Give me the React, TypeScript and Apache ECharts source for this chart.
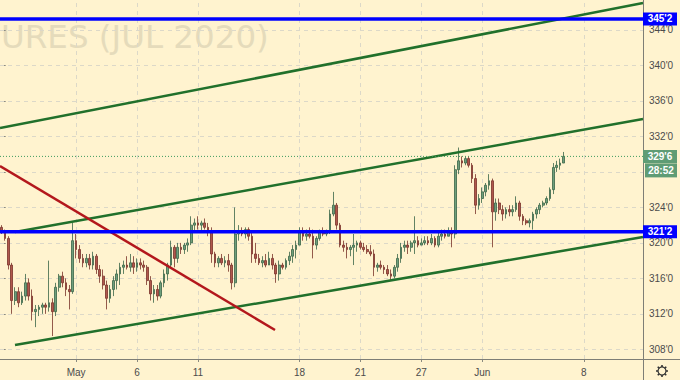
import React, { useEffect, useRef } from "react";
import * as echarts from "echarts";

// [open, close, low, high] per bar (6 bars per trading day)
const bars: number[][] = [
  [321.75,321.25,321,322],[321.25,320.5,320.25,321.5],[320.5,317.5,317,320.75],[317.5,313.5,312,317.75],
  [313.5,314.5,313,315],[314.5,313.25,312.75,315],[313.25,314,313,314.5],[314,315.5,313.5,316.5],
  [315.5,314,313.5,316],[314,312.25,311.25,314.75],[312.25,312.5,310.5,313],[312.5,312.75,311.75,313],
  [312.75,313,312,313.25],[313,312.75,312,313.25],[312.75,313.25,312.25,318],[313.25,312.25,309.5,313.75],
  [312.25,315,311.75,315.5],[315,316.25,314.5,316.5],[316.25,315.5,315,316.75],[315.5,314.75,314,316],
  [314.75,314.5,312.5,315.25],[314.5,320.25,314.25,322.25],[320.25,319.25,318.25,321],[319.25,318.25,317.75,319.75],
  [318.25,317.75,317.25,318.75],[317.75,318.25,317.25,318.75],[318.25,317.5,317,318.75],[317.5,318.5,317,319],
  [318.5,317,316.5,318.75],[317,316.25,315.5,317.5],[316.25,315.25,314.75,317],[315.25,313.75,312.5,315.75],
  [313.75,314.75,313.25,315.25],[314.75,315.75,314,316.25],[315.75,316.5,314.75,317],[316.5,317.25,315.25,317.75],
  [317.25,317.5,316.5,318],[317.5,317.25,317,318.5],[317.25,317.75,316.75,318.75],[317.75,317.25,316.5,318.5],
  [317.25,317.75,316.75,318.25],[317.75,317.5,317,318.25],[317.5,317.25,316.75,318],[317.25,315.75,315.25,317.5],
  [315.75,314.25,313.5,316.25],[314.25,314.75,313.25,315.25],[314.75,314,313.5,315.25],[314,315.5,313.75,315.75],
  [315.5,316.5,315,317],[316.5,317.5,315.75,317.75],[317.5,319.5,317.25,320.25],[319.5,318.25,317.25,319.75],
  [318.25,319.5,317.75,320],[319.5,319.25,318.75,320],[319.25,319.75,318.75,320],[319.75,320,319,320.5],
  [320,322,319.75,323],[322,322.25,321.25,322.75],[322.25,322,321.5,323],[322,322.25,321.25,322.5],
  [322.25,321.75,321.5,322.75],[321.75,321.25,320.75,322.25],[321.25,318.75,317.75,321.75],[318.75,317.75,317.25,319],
  [317.75,318.25,317.25,318.5],[318.25,317.75,317.5,318.75],[317.75,318,317.25,318.5],[318,317.5,316.75,318.75],
  [317.5,315.5,314.75,317.75],[315.5,321,315,324],[321,321.25,320.25,322],[321.25,321,320.75,321.75],
  [321,321.5,320.5,321.75],[321.5,320.75,320.25,321.75],[320.75,318.75,317.75,321.25],[318.75,318.25,317.75,320],
  [318.25,317.75,317.5,318.75],[317.75,318,317.25,318.5],[318,317.5,317.25,318.75],[317.5,318.25,317.5,319],
  [318.25,317.5,317,318.75],[317.5,316.5,315.5,317.75],[316.5,317.5,315.75,318],[317.5,317.25,317,317.75],
  [317.25,318,317,318.25],[318,318.5,317.5,319],[318.5,319.25,317.75,319.75],[319.25,319.75,318.25,320.25],
  [319.75,321.25,319.75,321.75],[321.25,320.75,320.25,321.75],[320.75,321,320.25,321.5],[321,320.75,320.5,321.75],
  [320.75,319.75,318.25,321.5],[319.75,320.5,319.25,320.75],[320.5,321.25,320.25,321.5],[321.25,321,320.75,321.75],
  [321,321.25,320.75,321.5],[321.25,323.25,321,323.75],[323.25,324.25,323,325.75],[324.25,322,321.5,324.5],
  [322,319.75,319.5,322.25],[319.75,319.5,319,320.25],[319.5,319.25,318.25,320],[319.25,319.5,318.5,319.75],
  [319.5,319.75,317.5,321],[319.75,320,319,320.25],[320,319.5,319.25,320.25],[319.5,319.25,319,320],
  [319.25,319,318.75,319.75],[319,318.75,318.5,319.75],[318.75,317.25,316.25,319.25],[317.25,317.5,316.75,317.75],
  [317.5,317.25,317,318],[317.25,317,316.5,317.5],[317,316.5,316.25,317.5],[316.5,316.25,315.75,317],
  [316.25,317.25,316,317.5],[317.25,318.25,316.75,318.75],[318.25,319.5,317.75,320],[319.5,319.75,319,320.25],
  [319.75,319.5,318.75,320.25],[319.5,320,319,320.25],[320,320.25,318.75,323],[320.25,319.75,319.5,320.75],
  [319.75,320,319.75,320.5],[320,320.25,319.75,320.75],[320.25,320,319.75,320.75],[320,320.5,319.75,321],
  [320.5,319.75,319.5,320.75],[319.75,320.75,319.5,321.25],[320.75,321,320.25,321.5],[321,320.75,320.5,321.5],
  [320.75,321.25,320.75,321.75],[321.25,321,319.5,321.75],[321,328.25,320.5,328.75],[328.25,329.25,327.75,330.75],
  [329.25,329,328.5,329.75],[329,329.5,328.75,329.75],[329.5,328.75,328.5,329.75],[328.75,327.25,326.75,329],
  [327.25,324.25,323.25,327.75],[324.25,325,323.75,325.5],[325,325.75,324.5,326.25],[325.75,326.5,325.25,326.75],
  [326.5,327,326,327.75],[327,323.5,319.5,327.25],[323.5,324.5,322.5,325],[324.5,323.75,323.25,325],
  [323.75,323.25,322.5,324.25],[323.25,323.75,322.75,324],[323.75,323.5,323,324.25],[323.5,323.75,323,324.25],
  [323.75,324.5,323.5,325.25],[324.5,323,322.5,324.75],[323,322.5,322,323.25],[322.5,322.25,322,322.75],
  [322.25,322.5,321.75,322.75],[322.5,323.25,321.5,323.5],[323.25,323.75,322.75,324],[323.75,324.25,323.25,324.5],
  [324.25,324.5,324,324.75],[324.5,325,324.25,325.25],[325,326,324.75,326.25],[326,328.5,325.5,329],
  [328.5,328.75,328,329.25],[328.75,329,328.25,329.5],[329,329.75,329,330.25],
];

const TOTAL_BARS = 190; // bar slots on the time axis (incl. empty right margin)
const tickBars = [22, 40, 58, 88, 106, 124, 142, 172];
const tickLabels = ["May", "6", "11", "18", "21", "27", "Jun", "8"];
const priceGrid = [308, 312, 316, 320, 324, 328, 332, 336, 340, 344];
const priceLabels = [308, 312, 316, 320, 324, 332, 336, 340, 344];
const YMIN = 306.91;
const YMAX = 347.38;

const levelHigh = 345.25;
const levelLow = 321.25;
const lastPrice = 329.75;
const countdown = "28:52";
const watermark = "URES (JUL 2020)";

// drawn lines: [barPosition, price]
const upperChannel = [[-0.5, 332.95], [189.5, 347.04]];
const middleChannel = [[3.93, 321.22], [189.5, 333.96]];
const lowerChannel = [[3.93, 308.49], [189.5, 320.66]];
const redTrend = [[-0.5, 328.67], [80.76, 310.18]];

const FONT = "'Liberation Sans', Arial, sans-serif";

const fmt = (v: number) => {
  const w = Math.floor(v);
  return `${w}'${Math.round((v - w) * 8)}`;
};

export default function App() {
  const ref = useRef<HTMLDivElement>(null);

  useEffect(() => {
    const chart = echarts.init(ref.current!, null, { renderer: "svg" });
    const cats = Array.from({ length: TOTAL_BARS }, (_, i) => String(i));
    const tickMap = new Map<number, string>(tickBars.map((b, k) => [b, tickLabels[k]]));

    const lineSeries = (data: number[][], color: string, width: number, z: number, type: any = "solid") => ({
      type: "line",
      xAxisIndex: 1,
      yAxisIndex: 0,
      data,
      symbol: "none",
      silent: true,
      z,
      lineStyle: { color, width, type },
    });

    chart.setOption({
      animation: false,
      backgroundColor: "#fff3cf",
      grid: { left: 0, right: 37, top: 0, bottom: 21 },
      xAxis: [
        {
          type: "category",
          data: cats,
          boundaryGap: true,
          axisLine: { show: false },
          axisTick: {
            show: true,
            alignWithLabel: true,
            length: 3,
            interval: (i: number) => tickMap.has(i),
            lineStyle: { color: "#8a8a80" },
          },
          axisLabel: {
            interval: (i: number) => tickMap.has(i),
            formatter: (_v: string, i: number) => tickMap.get(i) ?? "",
            color: "#4b4b4b",
            fontSize: 10,
            fontFamily: FONT,
            margin: 8,
          },
          splitLine: { show: false },
        },
        { type: "value", min: -0.5, max: TOTAL_BARS - 0.5, show: false },
      ],
      yAxis: {
        type: "value",
        position: "right",
        min: YMIN,
        max: YMAX,
        axisLine: { show: false },
        axisTick: {
          show: true,
          length: 4,
          customValues: priceGrid,
          lineStyle: { color: "#8a8a80" },
        },
        axisLabel: {
          customValues: priceLabels,
          formatter: (v: number) => fmt(v),
          color: "#4b4b4b",
          fontSize: 10,
          fontFamily: FONT,
          margin: 6,
        },
        splitLine: { show: false },
      },
      series: [
        {
          type: "candlestick",
          data: bars,
          barWidth: 2.2,
          z: 2,
          itemStyle: {
            color: "#6f9f7c",
            color0: "#b0574c",
            borderColor: "#3a6547",
            borderColor0: "#78322a",
            borderWidth: 0.8,
          },
          markLine: {
            silent: true,
            z: 1,
            symbol: ["none", "none"],
            label: { show: false },
            lineStyle: { color: "#dcd8c8", width: 1, type: [4, 4] },
            data: [
              ...priceGrid.map((v) => ({ yAxis: v })),
              ...tickBars.map((b) => ({ xAxis: String(b) })),
            ],
          },
        },
        lineSeries(upperChannel, "#21702b", 2.5, 3),
        lineSeries(middleChannel, "#21702b", 2.5, 3),
        lineSeries(lowerChannel, "#21702b", 2.5, 3),
        lineSeries(redTrend, "#b3171c", 2.5, 3),
        lineSeries([[-0.5, lastPrice], [189.5, lastPrice]], "#3f9b5f", 1, 3, [1, 2]),
        lineSeries([[-0.5, levelHigh], [189.5, levelHigh]], "#0000ff", 3.5, 4),
        lineSeries([[-0.5, levelLow], [189.5, levelLow]], "#0000ff", 3.5, 4),
      ],
    });

    const yOf = (v: number) => chart.convertToPixel({ yAxisIndex: 0 }, v) as number;
    const badge = (value: number, text: string, fill: string, dy = 0, x = 643, w = 34, h = 13) => [
      { type: "rect", z: 10, shape: { x, y: yOf(value) - h / 2 + dy, width: w, height: h }, style: { fill } },
      {
        type: "text",
        z: 11,
        x: x + w / 2,
        y: yOf(value) + dy,
        style: { text, fill: "#ffffff", font: `bold 10px ${FONT}`, align: "center", verticalAlign: "middle" },
      },
    ];

    const gearSpokes = Array.from({ length: 8 }, (_, k) => {
      const a = (k * Math.PI) / 4;
      return {
        type: "line",
        z: 10,
        shape: {
          x1: 662 + Math.cos(a) * 4,
          y1: 371 + Math.sin(a) * 4,
          x2: 662 + Math.cos(a) * 6,
          y2: 371 + Math.sin(a) * 6,
        },
        style: { stroke: "#333", lineWidth: 1.6 },
      };
    });

    chart.setOption({
      graphic: [
        {
          type: "text",
          z: 0,
          x: 1,
          y: 37,
          style: {
            text: watermark,
            fill: "#e5dbbb",
            font: `32.5px 'DejaVu Sans', sans-serif`,
            align: "left",
            verticalAlign: "middle",
          },
        },
        { type: "line", z: 9, shape: { x1: 643.5, y1: 0, x2: 643.5, y2: 380 }, style: { stroke: "#7e7e76", lineWidth: 1 } },
        { type: "line", z: 9, shape: { x1: 0, y1: 359.5, x2: 680, y2: 359.5 }, style: { stroke: "#7e7e76", lineWidth: 1 } },
        ...badge(levelHigh, fmt(levelHigh), "#0000ff"),
        ...badge(levelLow, fmt(levelLow), "#0000ff"),
        ...badge(lastPrice, fmt(lastPrice), "#5f9c75"),
        ...badge(lastPrice, countdown, "#5f9c75", 14, 645, 32, 14),
        { type: "circle", z: 10, shape: { cx: 662, cy: 371, r: 4 }, style: { fill: "none", stroke: "#333", lineWidth: 1.2 } },
        ...gearSpokes,
      ],
    });

    return () => chart.dispose();
  }, []);

  return (
    <div
      ref={ref}
      style={{ position: "fixed", left: 0, top: 0, width: 680, height: 380, background: "#fff3cf" }}
    />
  );
}
